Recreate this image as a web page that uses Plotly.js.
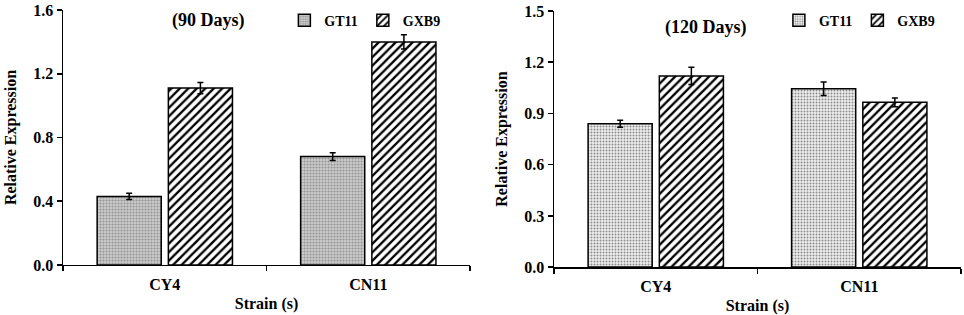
<!DOCTYPE html>
<html><head><meta charset="utf-8">
<script src="https://cdn.plot.ly/plotly-3.0.1.min.js"></script>
<style>body{margin:0;background:#fff}#c{width:964px;height:315px}</style>
</head><body><div id="c"></div>
<script>
const strains = ["CY4", "CN11"];
const seriesNames = ["GT11", "GXB9"];
const gt11_90 = [0.43, 0.68];
const gt11_90_err = [0.02, 0.025];
const gxb9_90 = [1.11, 1.40];
const gxb9_90_err = [0.035, 0.045];
const gt11_120 = [0.84, 1.045];
const gt11_120_err = [0.02, 0.04];
const gxb9_120 = [1.12, 0.965];
const gxb9_120_err = [0.05, 0.025];
const panelTitles = ["(90 Days)", "(120 Days)"];
const xTitle = "Strain (s)";
const yTitle = "Relative Expression";

const F = "Liberation Serif";
const line = {color: "#000", width: 1.5};
function eb(arr){return {type:"data", array:arr, visible:true, color:"#000", thickness:1.5, width:3};}
const patGT_L = {shape:".", fgcolor:"#8f8f8f", bgcolor:"#cfcfcf", size:3, solidity:0.4, fillmode:"replace"};
const patGT_R = {shape:".", fgcolor:"#8a8a8a", bgcolor:"#f0f0f0", size:3, solidity:0.35, fillmode:"replace"};
const patGX = {shape:"/", fgcolor:"#000", bgcolor:"#fff", size:6, solidity:0.38, fillmode:"replace"};

const data = [
  {type:"bar", name:seriesNames[0], x:strains, y:gt11_90, error_y:eb(gt11_90_err), xaxis:"x", yaxis:"y", legend:"legend",
   marker:{color:"#cfcfcf", pattern:patGT_L, line:line}},
  {type:"bar", name:seriesNames[1], x:strains, y:gxb9_90, error_y:eb(gxb9_90_err), xaxis:"x", yaxis:"y", legend:"legend",
   marker:{color:"#fff", pattern:patGX, line:line}},
  {type:"bar", name:seriesNames[0], x:strains, y:gt11_120, error_y:eb(gt11_120_err), xaxis:"x2", yaxis:"y2", legend:"legend2",
   marker:{color:"#f0f0f0", pattern:patGT_R, line:line}},
  {type:"bar", name:seriesNames[1], x:strains, y:gxb9_120, error_y:eb(gxb9_120_err), xaxis:"x2", yaxis:"y2", legend:"legend2",
   marker:{color:"#fff", pattern:patGX, line:line}}
];

function xa(domain, anchor){
  return {domain:domain, anchor:anchor, type:"category", showline:true, linecolor:"#000", linewidth:1.5,
    ticks:"outside", tickson:"boundaries", ticklen:5, tickcolor:"#000", tickwidth:1.5, ticklabelstandoff:4,
    tickfont:{family:F, size:16, color:"#000", weight:"bold"},
    title:{text:xTitle, font:{family:F, size:16, color:"#000", weight:"bold"}, standoff:6},
    showgrid:false, zeroline:false, fixedrange:true};
}
function ya(domain, anchor, range, dtick){
  return {domain:domain, anchor:anchor, range:range, dtick:dtick, tickformat:".1f",
    showline:true, linecolor:"#000", linewidth:1.5, ticks:"outside", ticklen:5, tickcolor:"#000", tickwidth:1.5,
    tickfont:{family:F, size:16, color:"#000", weight:"bold"},
    title:{text:yTitle, font:{family:F, size:16, color:"#000", weight:"bold"}, standoff:12},
    showgrid:false, zeroline:false, fixedrange:true};
}

const layout = {
  width:964, height:315, margin:{l:0, r:0, t:0, b:0},
  paper_bgcolor:"#fff", plot_bgcolor:"#fff",
  barmode:"group", bargap:0.30, bargroupgap:0.1,
  showlegend:true,
  xaxis: xa([0.0654, 0.4876], "y"),
  yaxis: ya([0.159, 0.968], "x", [0, 1.6], 0.4),
  xaxis2: xa([0.5747, 0.9969], "y2"),
  yaxis2: ya([0.152, 0.965], "x2", [0, 1.5], 0.3),
  legend:{orientation:"h", x:0.462, xanchor:"right", y:0.985, yanchor:"top", bgcolor:"rgba(0,0,0,0)",
    font:{family:F, size:14, color:"#000", weight:"bold"}, itemwidth:30, tracegroupgap:0, traceorder:"normal"},
  legend2:{orientation:"h", x:0.975, xanchor:"right", y:0.985, yanchor:"top", bgcolor:"rgba(0,0,0,0)",
    font:{family:F, size:14, color:"#000", weight:"bold"}, itemwidth:30, tracegroupgap:0, traceorder:"normal"},
  annotations:[
    {text:panelTitles[0], xref:"paper", yref:"paper", x:208/964, y:1-21/315, xanchor:"center", yanchor:"middle",
     showarrow:false, font:{family:F, size:18, color:"#000", weight:"bold"}},
    {text:panelTitles[1], xref:"paper", yref:"paper", x:706/964, y:1-27/315, xanchor:"center", yanchor:"middle",
     showarrow:false, font:{family:F, size:18, color:"#000", weight:"bold"}}
  ]
};
Plotly.newPlot("c", data, layout, {displayModeBar:false, staticPlot:true});
</script>
</body></html>
